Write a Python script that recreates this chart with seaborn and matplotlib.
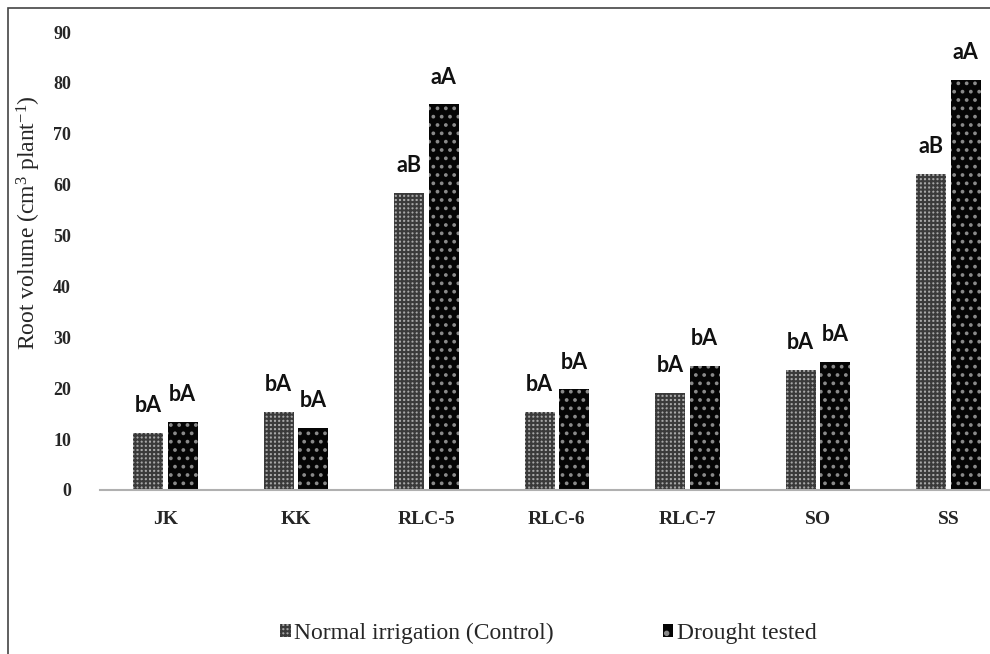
import matplotlib
matplotlib.use("Agg")
import matplotlib.pyplot as plt
import seaborn as sns
import pandas as pd
from matplotlib.patches import Rectangle, Patch

genotypes = ["JK", "KK", "RLC-5", "RLC-6", "RLC-7", "SO", "SS"]
control = [11.2, 15.3, 58.4, 15.3, 19.1, 23.6, 62.1]
drought = [13.4, 12.2, 75.8, 19.8, 24.4, 25.2, 80.6]
control_letters = ["bA", "bA", "aB", "bA", "bA", "bA", "aB"]
drought_letters = ["bA", "bA", "aA", "bA", "bA", "bA", "aA"]
series = ["Normal irrigation (Control)", "Drought tested"]
yticks = [0, 10, 20, 30, 40, 50, 60, 70, 80, 90]

df = pd.DataFrame({
    "Genotype": genotypes * 2,
    "Treatment": [series[0]] * len(genotypes) + [series[1]] * len(genotypes),
    "Volume": control + drought,
})

sns.set_theme(style="white")
plt.rcParams["hatch.linewidth"] = 1.5
plt.rcParams["mathtext.fontset"] = "custom"
plt.rcParams["mathtext.rm"] = "Liberation Serif"
plt.rcParams["mathtext.default"] = "regular"

fig = plt.figure(figsize=(9.9, 6.54), dpi=100)
ax = fig.add_axes([0.1012, 0.2508, 0.9227, 0.7002])

sns.barplot(data=df, x="Genotype", y="Volume", hue="Treatment",
            order=genotypes, hue_order=series, ax=ax, width=0.53,
            gap=0.13, errorbar=None, legend=False,
            palette=["#9a9a9a", "#050505"], saturation=1)

styles = [
    dict(face="#a8a8a8", edge="#3a3a3a", hatch="++++"),
    dict(face="#050505", edge="#8a8a8a", hatch=".."),
]
letters = [control_letters, drought_letters]
for i, container in enumerate(ax.containers):
    st = styles[i]
    for bar in container:
        bar.set_facecolor(st["face"])
        bar.set_edgecolor(st["edge"])
        bar.set_hatch(st["hatch"])
        bar.set_linewidth(0)
    ax.bar_label(container, labels=letters[i], padding=12,
                 fontsize=15.5, fontweight="bold", family="Lato",
                 color="#111111")

ax.set_ylim(0, 90)
ax.set_xlim(-0.5, len(genotypes) - 0.5)
ax.set_yticks(yticks)
ax.set_yticklabels([str(v) for v in yticks], family="Liberation Serif",
                   fontweight="bold", fontsize=13)
ax.set_xticks(range(len(genotypes)))
ax.set_xticklabels(genotypes, family="Liberation Serif",
                   fontweight="bold", fontsize=14)
ax.tick_params(axis="y", length=0, pad=21)
ax.tick_params(axis="x", length=0, pad=15)
ax.set_xlabel("")
ax.set_ylabel("Root volume (cm$^{3}$ plant$^{-1}$)",
              family="Liberation Serif", fontsize=17)
ax.yaxis.set_label_coords(-0.063, 0.583)

for side in ["left", "right", "top"]:
    ax.spines[side].set_visible(False)
ax.spines["bottom"].set_color("#b0b0b0")
ax.spines["bottom"].set_linewidth(1.5)

handles = [
    Patch(facecolor=styles[0]["face"], edgecolor=styles[0]["edge"],
          hatch=styles[0]["hatch"], linewidth=0),
    Patch(facecolor=styles[1]["face"], edgecolor=styles[1]["edge"],
          hatch=".", linewidth=0),
]
fig.legend(handles, series, loc="center", bbox_to_anchor=(0.554, 0.032),
           ncol=2, frameon=False, handlelength=0.45, handleheight=0.45,
           handletextpad=0.15, columnspacing=4.6,
           prop={"family": "Liberation Serif", "size": 17})

fig.patches.append(Rectangle((8 / 990, -0.01), 1.0, 1 - 8 / 654 + 0.01,
                             transform=fig.transFigure, fill=False,
                             edgecolor="#444444", linewidth=1.2))

fig.savefig("out.png", dpi=100, facecolor="white")
